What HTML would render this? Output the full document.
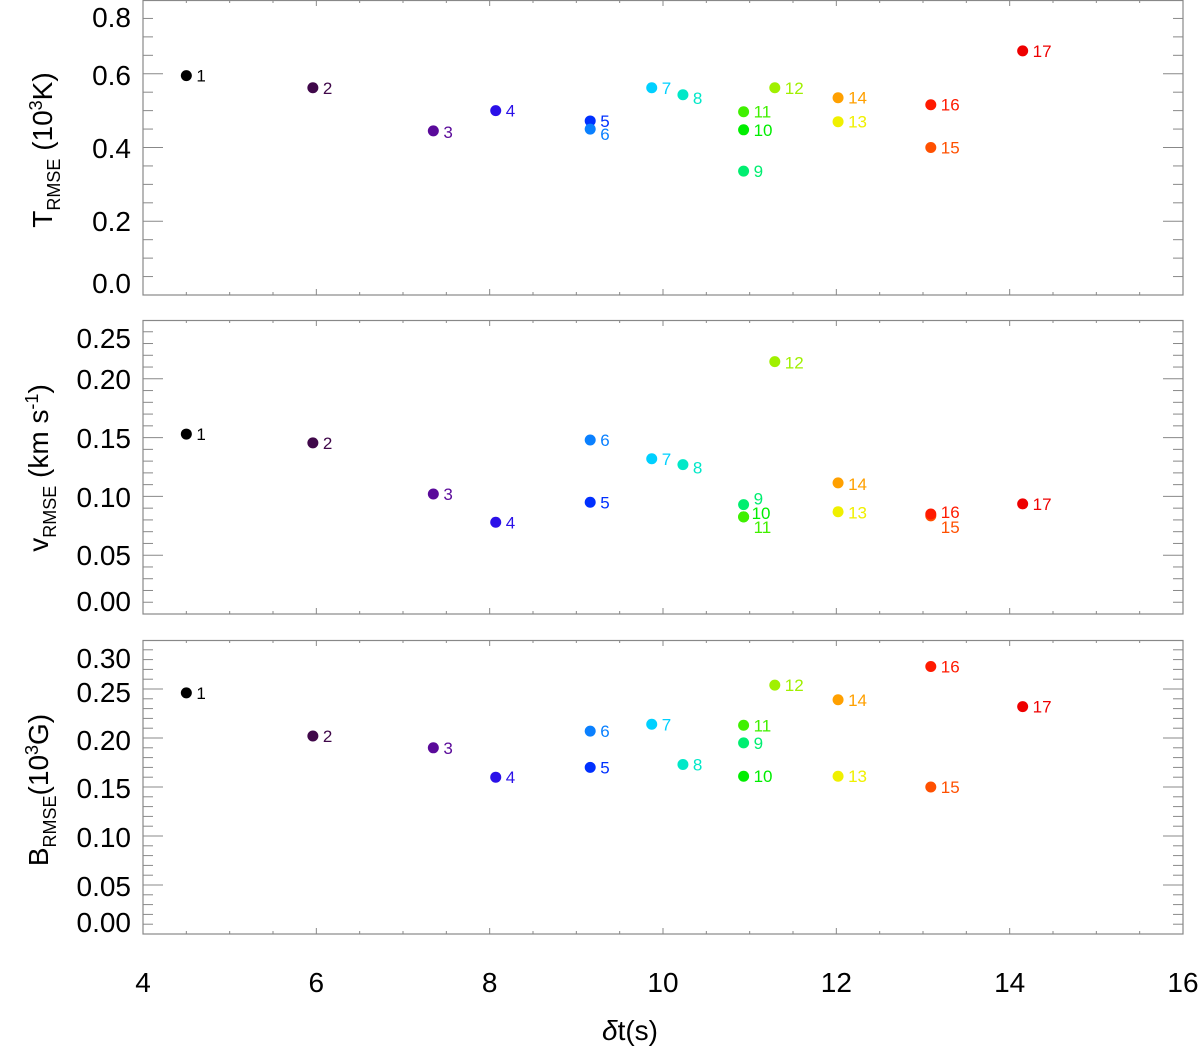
<!DOCTYPE html>
<html><head><meta charset="utf-8"><style>
html,body{margin:0;padding:0;background:#fff;}
svg{display:block;font-family:"Liberation Sans",Arial,sans-serif;}
</style></head><body>
<svg id="chart" width="1200" height="1048" viewBox="0 0 1200 1048" xmlns="http://www.w3.org/2000/svg"></svg>
<script>
const ids = [1,2,3,4,5,6,7,8,9,10,11,12,13,14,15,16,17];
const dtValues = [4.5,5.96,7.35,8.07,9.16,9.16,9.87,10.23,10.93,10.93,10.93,11.29,12.02,12.02,13.09,13.09,14.15];
const tValues = [0.595,0.562,0.445,0.50,0.472,0.45,0.562,0.543,0.336,0.448,0.497,0.562,0.47,0.535,0.40,0.516,0.662];
const vValues = [0.153,0.1455,0.102,0.078,0.095,0.148,0.132,0.127,0.093,0.0826,0.0826,0.2146,0.087,0.1115,0.0834,0.085,0.0936];
const bValues = [0.246,0.202,0.19,0.16,0.170,0.207,0.214,0.173,0.195,0.161,0.213,0.254,0.161,0.239,0.15,0.273,0.232];
const colors = ["#000000","#40084a","#5a0a9a","#2a10e8","#0030ff","#0a80ff","#00d0ff","#00e8c8","#00ee70","#00ee00","#40f000","#a0f000","#f0f000","#ffa000","#ff5000","#ff1a00","#ee0000"];
const xTicks = [4,6,8,10,12,14,16];
const tTickLabels = ["0.8","0.6","0.4","0.2","0.0"];
const vTickLabels = ["0.25","0.20","0.15","0.10","0.05","0.00"];
const bTickLabels = ["0.30","0.25","0.20","0.15","0.10","0.05","0.00"];

const NS="http://www.w3.org/2000/svg";
const svg=document.getElementById('chart');
function mk(tag,attrs,parent){const e=document.createElementNS(NS,tag);for(const k in attrs)e.setAttribute(k,attrs[k]);(parent||svg).appendChild(e);return e;}
const X0=143,X1=1183,XMIN=4,XMAX=16;
function xs(v){return X0+(v-XMIN)/(XMAX-XMIN)*(X1-X0);}

const panels=[
 {name:'temperature',top:0,bot:295,ymax:0.8,values:tValues,minor:0.05,major:0.2,labels:tTickLabels,labelY:[17,75,148,221,283],
  off:[[10,4],[10,4],[10,5],[10,4],[10,4],[10,9],[10,4],[10,7],[10,4],[10,4],[10,4],[10,4],[10,4],[10,4],[10,4],[10,4],[10,4]]},
 {name:'velocity',top:320,bot:614,ymax:0.25,values:vValues,minor:0.01,major:0.05,labels:vTickLabels,labelY:[338,379,438,497,555,601],
  off:[[10,4],[10,4],[10,4],[10,4],[10,4],[10,4],[10,4],[10,7],[10,-2],[8,0],[10,14],[10,5],[10,5],[10,5],[10,15],[10,2],[10,4]]},
 {name:'magnetic',top:640,bot:934,ymax:0.3,values:bValues,minor:0.01,major:0.05,labels:bTickLabels,labelY:[658,692,740,788,837,886,922],
  off:[[10,4],[10,4],[10,4],[10,4],[10,4],[10,4],[10,4],[10,4],[10,4],[10,4],[10,4],[10,4],[10,4],[10,4],[10,4],[10,4],[10,4]]}
];

panels.forEach((p,pi)=>{
  const g=mk('g',{});
  
  
  const ys=v=>p.bot-(v/p.ymax)*(p.bot-p.top);
  const fr=mk('rect',{x:X0,y:p.top+0.5,width:X1-X0,height:p.bot-p.top-0.5,fill:'none',stroke:'#888','stroke-width':1.2},g);
  
  
  const n=Math.round(p.ymax/p.minor);
  for(let i=1;i<n;i++){
    const v=i*p.minor,y=ys(v);
    const isMaj=Math.abs(v/p.major-Math.round(v/p.major))<1e-6;
    const L=isMaj?20:10;
    mk('line',{x1:X0,x2:X0+L,y1:y,y2:y,stroke:'#888','stroke-width':1},g);
    mk('line',{x1:X1,x2:X1-L,y1:y,y2:y,stroke:'#888','stroke-width':1},g);
  }
  for(let v=XMIN+0.5;v<XMAX;v+=0.5){
    const x=xs(v);const isMaj=Math.abs(v-Math.round(v/2)*2)<1e-6;
    const L=isMaj?6:3;
    mk('line',{x1:x,x2:x,y1:p.top,y2:p.top+L,stroke:'#888','stroke-width':1},g);
    mk('line',{x1:x,x2:x,y1:p.bot,y2:p.bot-L,stroke:'#888','stroke-width':1},g);
  }
  p.labels.forEach((t,i)=>{
    const tx=mk('text',{x:131,y:p.labelY[i]+10,'text-anchor':'end','font-size':28,fill:'#000'},g);
    tx.textContent=t;
    
    
  });
  ids.forEach((id,i)=>{
    const cx=xs(dtValues[i]),cy=ys(p.values[i]);
    const c=mk('circle',{cx:cx,cy:cy,r:5.5,fill:colors[i]},g);
    
    
    const t=mk('text',{x:cx+p.off[i][0],y:cy+p.off[i][1]+2,'font-size':17,fill:colors[i]},g);
    t.textContent=id;
    
    
  });
});

xTicks.forEach(v=>{
  const t=mk('text',{x:xs(v),y:992,'text-anchor':'middle','font-size':28,fill:'#000'});
  t.textContent=v;
  
  
});
</script>
<svg style="position:absolute;left:0;top:0" width="1200" height="1048" xmlns="http://www.w3.org/2000/svg" font-family="Liberation Sans, Arial, sans-serif">
  <text x="630" y="1040" text-anchor="middle" font-size="28"><tspan font-style="italic">δ</tspan>t(s)</text>
  <text transform="translate(52,150) rotate(-90)" text-anchor="middle" font-size="28">T<tspan font-size="18" dy="8">RMSE</tspan><tspan dy="-8"> (10</tspan><tspan font-size="18" dy="-10">3</tspan><tspan dy="10">K)</tspan></text>
  <text transform="translate(48,468) rotate(-90)" text-anchor="middle" font-size="28">v<tspan font-size="18" dy="8">RMSE</tspan><tspan dy="-8">  (km s</tspan><tspan font-size="18" dy="-10">-1</tspan><tspan dy="10">)</tspan></text>
  <text transform="translate(48,790) rotate(-90)" text-anchor="middle" font-size="28">B<tspan font-size="18" dy="8">RMSE</tspan><tspan dy="-8">(10</tspan><tspan font-size="18" dy="-10">3</tspan><tspan dy="10">G)</tspan></text>
</svg>
</body></html>
